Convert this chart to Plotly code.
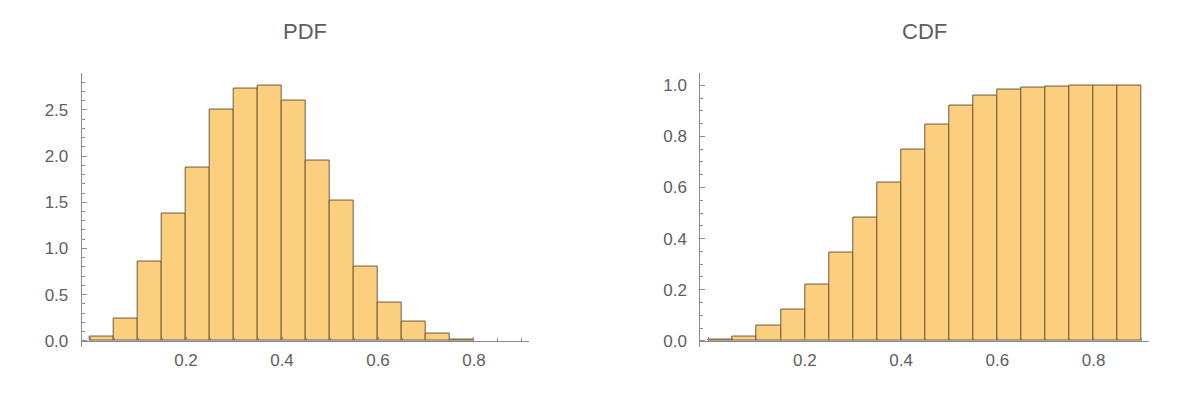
import plotly.graph_objects as go

# ---- data ----
bin_left = [0.00, 0.05, 0.10, 0.15, 0.20, 0.25, 0.30, 0.35, 0.40, 0.45,
            0.50, 0.55, 0.60, 0.65, 0.70, 0.75, 0.80, 0.85]
bin_width = 0.05

pdf_values = [0.043, 0.236, 0.861, 1.382, 1.875, 2.507, 2.732, 2.764, 2.604,
              1.950, 1.521, 0.804, 0.418, 0.204, 0.075, 0.010]
cdf_values = [0.004, 0.0155, 0.059, 0.124, 0.221, 0.345, 0.481, 0.620, 0.748,
              0.845, 0.922, 0.961, 0.984, 0.992, 0.996, 1.000, 1.000, 1.000]

x_tick_vals = [0.0, 0.2, 0.4, 0.6, 0.8]
x_tick_text = ["", "0.2", "0.4", "0.6", "0.8"]
pdf_y_ticks = [0.0, 0.5, 1.0, 1.5, 2.0, 2.5]
pdf_y_text = ["0.0", "0.5", "1.0", "1.5", "2.0", "2.5"]
cdf_y_ticks = [0.0, 0.2, 0.4, 0.6, 0.8, 1.0]
cdf_y_text = ["0.0", "0.2", "0.4", "0.6", "0.8", "1.0"]
titles = ["PDF", "CDF"]

# ---- style ----
FILL = "rgb(252,207,126)"
EDGE = "rgb(110,90,60)"
AXIS = "#8c8c8c"
TEXT = "#5e5e5e"
FONT = "Liberation Sans, Arial, sans-serif"
W, H = 1200, 394

def px_x(p):
    return p / W

def px_y(p):
    return (H - p) / H

fig = go.Figure()

centers_pdf = [b + bin_width / 2 for b in bin_left[:len(pdf_values)]]
centers_cdf = [b + bin_width / 2 for b in bin_left[:len(cdf_values)]]

fig.add_trace(go.Bar(x=centers_pdf, y=pdf_values, width=bin_width,
                     marker=dict(color=FILL, line=dict(color=EDGE, width=1)),
                     xaxis="x", yaxis="y", showlegend=False))
fig.add_trace(go.Bar(x=centers_cdf, y=cdf_values, width=bin_width,
                     marker=dict(color=FILL, line=dict(color=EDGE, width=1)),
                     xaxis="x2", yaxis="y2", showlegend=False))

x_axis_px = 344.3
top_px = 73.3
overhang = 6

common_x = dict(showline=True, linecolor=AXIS, linewidth=1, showgrid=False,
                zeroline=False, ticks="inside", ticklen=4, tickcolor=AXIS,
                tickfont=dict(family=FONT, size=17, color=TEXT),
                tickmode="array", tickvals=x_tick_vals, ticktext=x_tick_text,
                minor=dict(ticks="inside", ticklen=2.5, tickcolor=AXIS,
                           tickmode="linear", tick0=0, dtick=0.05),
                range=[-0.0173, 0.9146], fixedrange=True, anchor="free",
                position=px_y(x_axis_px), ticklabelstandoff=4)
common_y = dict(showline=True, linecolor=AXIS, linewidth=1, showgrid=False,
                zeroline=False, ticks="inside", ticklen=5, tickcolor=AXIS,
                tickfont=dict(family=FONT, size=17, color=TEXT),
                tickmode="array", fixedrange=True,
                domain=[px_y(x_axis_px + overhang), px_y(top_px)],
                ticklabelstandoff=9)

pdf_scale = 93.3
cdf_scale = 258.0

fig.update_layout(
    width=W, height=H,
    margin=dict(l=0, r=0, t=0, b=0),
    paper_bgcolor="white", plot_bgcolor="rgba(0,0,0,0)",
    bargap=0,
    xaxis=dict(common_x, domain=[px_x(81.7), px_x(529)]),
    yaxis=dict(common_y, anchor="x", tickvals=pdf_y_ticks, ticktext=pdf_y_text,
               range=[-overhang / pdf_scale, 2.904],
               minor=dict(ticks="inside", ticklen=3, tickcolor=AXIS,
                          tickmode="linear", tick0=0, dtick=0.1)),
    xaxis2=dict(common_x, domain=[px_x(700.3), px_x(1148.7)]),
    yaxis2=dict(common_y, anchor="x2", tickvals=cdf_y_ticks, ticktext=cdf_y_text,
                range=[-overhang / cdf_scale, 1.050],
                minor=dict(ticks="inside", ticklen=3, tickcolor=AXIS,
                           tickmode="linear", tick0=0, dtick=0.05)),
    annotations=[
        dict(text=titles[0], x=(81.7 + 529) / 2 / W, y=px_y(31.5),
             xref="paper", yref="paper", xanchor="center", yanchor="middle",
             showarrow=False, font=dict(family=FONT, size=22, color=TEXT)),
        dict(text=titles[1], x=(700.3 + 1148.7) / 2 / W, y=px_y(31.5),
             xref="paper", yref="paper", xanchor="center", yanchor="middle",
             showarrow=False, font=dict(family=FONT, size=22, color=TEXT)),
    ],
)

fig.write_html("out.html", config={"displayModeBar": False},
               post_script="document.body.style.margin='0';document.body.style.overflow='hidden';")
